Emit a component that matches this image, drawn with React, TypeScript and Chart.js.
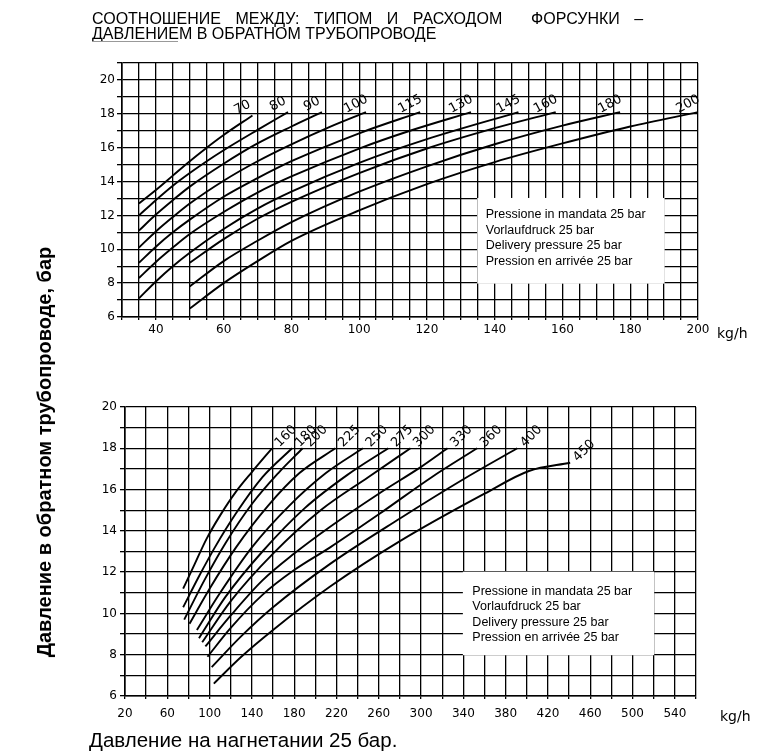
import React, { useEffect, useRef } from 'react';
import { Chart, registerables } from 'chart.js';

Chart.register(...registerables);

type Pt = [number, number];

// ---------- Top chart (nozzles 70 … 200 kg/h) ----------
const TOP_LABELS = ['70', '80', '90', '100', '115', '130', '145', '160', '180', '200'];
const TOP_70: Pt[] = [[35, 12.7], [40, 13.5], [45, 14.35], [50, 15.2], [55, 16.0], [60, 16.75], [68.5, 17.9]];
const TOP_80: Pt[] = [[35, 12.0], [40, 12.9], [45, 13.75], [50, 14.5], [55, 15.2], [60, 15.85], [70, 17.05], [79, 18.1]];
const TOP_90: Pt[] = [[35, 11.1], [40, 12.05], [45, 12.9], [50, 13.7], [60, 15.05], [70, 16.25], [80, 17.25], [89, 18.1]];
const TOP_100: Pt[] = [[35, 10.1], [40, 11.05], [45, 11.9], [50, 12.7], [60, 14.05], [70, 15.2], [80, 16.2], [91, 17.2], [102, 18.1]];
const TOP_115: Pt[] = [[35, 9.2], [40, 10.15], [45, 11.0], [50, 11.75], [60, 13.1], [70, 14.2], [80, 15.2], [100, 16.85], [118, 18.1]];
const TOP_130: Pt[] = [[35, 8.3], [40, 9.25], [45, 10.1], [50, 10.9], [60, 12.2], [70, 13.35], [80, 14.3], [100, 15.95], [115, 17.0], [133, 18.1]];
const TOP_145: Pt[] = [[35, 7.1], [40, 8.1], [45, 9.0], [50, 9.8], [60, 11.2], [70, 12.4], [80, 13.4], [100, 15.1], [120, 16.5], [147, 18.1]];
const TOP_160: Pt[] = [[50, 9.2], [60, 10.6], [70, 11.8], [80, 12.8], [100, 14.5], [120, 15.95], [140, 17.15], [158, 18.1]];
const TOP_180: Pt[] = [[50, 7.8], [60, 9.3], [70, 10.5], [80, 11.6], [100, 13.4], [120, 14.9], [140, 16.2], [160, 17.3], [177, 18.1]];
const TOP_200: Pt[] = [[50, 6.5], [60, 8.0], [70, 9.3], [80, 10.5], [100, 12.3], [120, 13.85], [140, 15.15], [160, 16.25], [180, 17.25], [200, 18.1]];
const TOP_CURVES = [TOP_70, TOP_80, TOP_90, TOP_100, TOP_115, TOP_130, TOP_145, TOP_160, TOP_180, TOP_200];

// ---------- Bottom chart (nozzles 160 … 450 kg/h) ----------
const BOT_LABELS = ['160', '180', '200', '225', '250', '275', '300', '330', '360', '400', '450'];
const BOT_160: Pt[] = [[75, 11.2], [86, 12.4], [97, 13.6], [110, 14.75], [125, 15.9], [140, 16.85], [159, 18.0]];
const BOT_180: Pt[] = [[75, 10.3], [90, 11.8], [105, 13.2], [125, 14.85], [150, 16.6], [178, 18.0]];
const BOT_200: Pt[] = [[76, 9.7], [95, 11.6], [115, 13.4], [140, 15.3], [165, 16.8], [188, 18.0]];
const BOT_225: Pt[] = [[81, 9.5], [100, 11.2], [125, 13.2], [155, 15.2], [185, 16.8], [219, 18.0]];
const BOT_250: Pt[] = [[88, 9.2], [110, 11.0], [140, 13.2], [175, 15.2], [210, 16.8], [245, 18.0]];
const BOT_275: Pt[] = [[90, 8.8], [115, 10.8], [150, 13.0], [190, 15.1], [230, 16.7], [269, 18.0]];
const BOT_300: Pt[] = [[93, 8.6], [120, 10.6], [160, 12.9], [205, 15.0], [250, 16.6], [290, 18.0]];
const BOT_330: Pt[] = [[96, 8.4], [120, 9.9], [150, 11.6], [180, 12.9], [214, 14.2], [260, 15.8], [300, 17.1], [325, 18.0]];
const BOT_360: Pt[] = [[98, 7.9], [120, 9.3], [150, 10.9], [180, 12.1], [214, 13.2], [260, 14.8], [310, 16.6], [353, 18.0]];
const BOT_400: Pt[] = [[102, 7.4], [130, 8.9], [160, 10.3], [214, 12.4], [280, 14.6], [340, 16.5], [391, 18.0]];
const BOT_450: Pt[] = [[104, 6.6], [130, 7.9], [160, 9.2], [214, 11.3], [280, 13.5], [360, 15.8], [402, 16.9], [441, 17.3]];
const BOT_CURVES = [BOT_160, BOT_180, BOT_200, BOT_225, BOT_250, BOT_275, BOT_300, BOT_330, BOT_360, BOT_400, BOT_450];

const LEGEND_LINES = [
  'Pressione in mandata 25 bar',
  'Vorlaufdruck 25 bar',
  'Delivery pressure 25 bar',
  'Pression en arrivée 25 bar',
];

const TITLE_1 = 'СООТНОШЕНИЕ МЕЖДУ: ТИПОМ И РАСХОДОМ  ФОРСУНКИ –';
const TITLE_2 = 'ДАВЛЕНИЕМ В ОБРАТНОМ ТРУБОПРОВОДЕ';
const Y_TITLE = 'Давление в обратном трубопроводе, бар';
const CAPTION = 'Давление на нагнетании 25 бар.';
const UNIT = 'kg/h';

const TICK_FONT = { family: 'DejaVu Sans', size: 12 };

function makeDatasets(curves: Pt[][]) {
  return curves.map((c) => ({
    data: c.map(([x, y]) => ({ x, y })),
    borderColor: '#000',
    borderWidth: 1.9,
    pointRadius: 0,
    fill: false,
    cubicInterpolationMode: 'monotone' as const,
  }));
}

function curveLabelPlugin(labels: string[], dx: number, dy: number, angle: number) {
  return {
    id: 'curveLabels',
    afterDatasetsDraw(chart: any) {
      const ctx = chart.ctx;
      chart.data.datasets.forEach((_ds: any, i: number) => {
        const meta = chart.getDatasetMeta(i);
        const last = meta.data[meta.data.length - 1];
        ctx.save();
        ctx.translate(last.x + dx, last.y + dy);
        ctx.rotate((angle * Math.PI) / 180);
        ctx.font = '13px "DejaVu Sans"';
        ctx.fillStyle = '#000';
        ctx.textAlign = 'center';
        ctx.textBaseline = 'middle';
        ctx.fillText(labels[i], 0, 0);
        ctx.restore();
      });
    },
  };
}

function legendBoxPlugin(x0: number, x1: number, y0: number, y1: number, padX: number, firstY: number, step: number) {
  return {
    id: 'legendBox',
    beforeDatasetsDraw(chart: any) {
      const { ctx, scales } = chart;
      const l = scales.x.getPixelForValue(x0);
      const r = scales.x.getPixelForValue(x1);
      const t = scales.y.getPixelForValue(y1);
      const b = scales.y.getPixelForValue(y0);
      ctx.save();
      ctx.fillStyle = '#fff';
      ctx.fillRect(l - 0.5, t - 0.5, r - l + 1, b - t + 1);
      ctx.fillStyle = '#000';
      ctx.font = '12.5px "Liberation Sans"';
      ctx.textAlign = 'left';
      ctx.textBaseline = 'middle';
      LEGEND_LINES.forEach((s, i) => ctx.fillText(s, l + padX, t + firstY + i * step));
      ctx.restore();
    },
  };
}

function axisOpts(min: number, max: number, step: number, cb: (v: number) => string, isX: boolean, tickLen: number, pad: number) {
  return {
    type: 'linear' as const,
    min,
    max,
    afterFit: (s: any) => {
      if (isX) s.height = 30;
      else s.width = 30;
    },
    ticks: {
      stepSize: step,
      autoSkip: false,
      maxRotation: 0,
      padding: pad,
      color: '#000',
      font: TICK_FONT,
      callback: (v: any) => cb(Number(v)),
    },
    grid: {
      color: '#000',
      lineWidth: 1.3,
      drawTicks: true,
      tickLength: tickLen,
      tickColor: '#000',
    },
    border: { display: true, color: '#000', width: 1.6 },
  };
}

function TopChart() {
  const ref = useRef<HTMLCanvasElement>(null);
  useEffect(() => {
    const chart = new Chart(ref.current!, {
      type: 'line',
      data: { datasets: makeDatasets(TOP_CURVES) as any },
      options: {
        animation: false,
        responsive: false,
        events: [],
        layout: { padding: { left: 92, top: 63, right: 65, bottom: 3 } },
        plugins: { legend: { display: false }, tooltip: { enabled: false } },
        scales: {
          x: axisOpts(30, 200, 5, (v) => (v % 20 === 0 && v >= 40 ? String(v) : ''), true, 3, 3),
          y: axisOpts(6, 21, 1, (v) => (v % 2 === 0 && v <= 20 ? String(v) : ''), false, 5, 2),
        } as any,
      },
      plugins: [legendBoxPlugin(135, 190, 8, 13, 8, 16, 15.7), curveLabelPlugin(TOP_LABELS, -10, -8, -28)],
    });
    return () => chart.destroy();
  }, []);
  return <canvas ref={ref} width={763} height={350} style={{ position: 'absolute', left: 0, top: 0 }} />;
}

function BottomChart() {
  const ref = useRef<HTMLCanvasElement>(null);
  useEffect(() => {
    const chart = new Chart(ref.current!, {
      type: 'line',
      data: { datasets: makeDatasets(BOT_CURVES) as any },
      options: {
        animation: false,
        responsive: false,
        events: [],
        layout: { padding: { left: 95, top: 47, right: 67, bottom: 27 } },
        plugins: { legend: { display: false }, tooltip: { enabled: false } },
        scales: {
          x: axisOpts(20, 560, 20, (v) => ((v - 20) % 40 === 0 && v <= 540 ? String(v) : ''), true, 3, 8),
          y: axisOpts(6, 20, 1, (v) => (v % 2 === 0 ? String(v) : ''), false, 5, 3),
        } as any,
      },
      plugins: [legendBoxPlugin(340, 520, 8, 12, 9, 19, 15.6), curveLabelPlugin(BOT_LABELS, 14, -12, -45)],
    });
    return () => chart.destroy();
  }, []);
  return <canvas ref={ref} width={763} height={393} style={{ position: 'absolute', left: 0, top: 360 }} />;
}

export default function App() {
  const sans = '"Liberation Sans", Arial, sans-serif';
  return (
    <div style={{ position: 'absolute', left: 0, top: 0, width: 763, height: 753, background: '#fff', overflow: 'hidden' }}>
      <TopChart />
      <BottomChart />
      <div style={{ position: 'absolute', left: 92, top: 11, font: `16px ${sans}`, lineHeight: '16px', whiteSpace: 'pre', wordSpacing: '10px', color: '#000' }}>{TITLE_1}</div>
      <div style={{ position: 'absolute', left: 92, top: 25.5, font: `16px ${sans}`, lineHeight: '16px', whiteSpace: 'pre', color: '#000' }}>{TITLE_2}</div>
      <div style={{ position: 'absolute', left: 92, top: 41, width: 86, height: 1, background: '#999' }} />
      <div
        style={{
          position: 'absolute',
          left: 44 - 250,
          top: 452 - 11,
          width: 500,
          height: 22,
          lineHeight: '22px',
          textAlign: 'center',
          font: `bold 20px ${sans}`,
          color: '#000',
          transform: 'rotate(-90deg)',
          transformOrigin: '50% 50%',
          whiteSpace: 'nowrap',
        }}
      >
        {Y_TITLE}
      </div>
      <div style={{ position: 'absolute', left: 89, top: 729, font: `20.5px ${sans}`, lineHeight: '22px', whiteSpace: 'nowrap', color: '#000' }}>{CAPTION}</div>
      <div style={{ position: 'absolute', left: 717, top: 324, font: `14px "DejaVu Sans"`, lineHeight: '18px', color: '#000' }}>{UNIT}</div>
      <div style={{ position: 'absolute', left: 720, top: 707, font: `14px "DejaVu Sans"`, lineHeight: '18px', color: '#000' }}>{UNIT}</div>
    </div>
  );
}
